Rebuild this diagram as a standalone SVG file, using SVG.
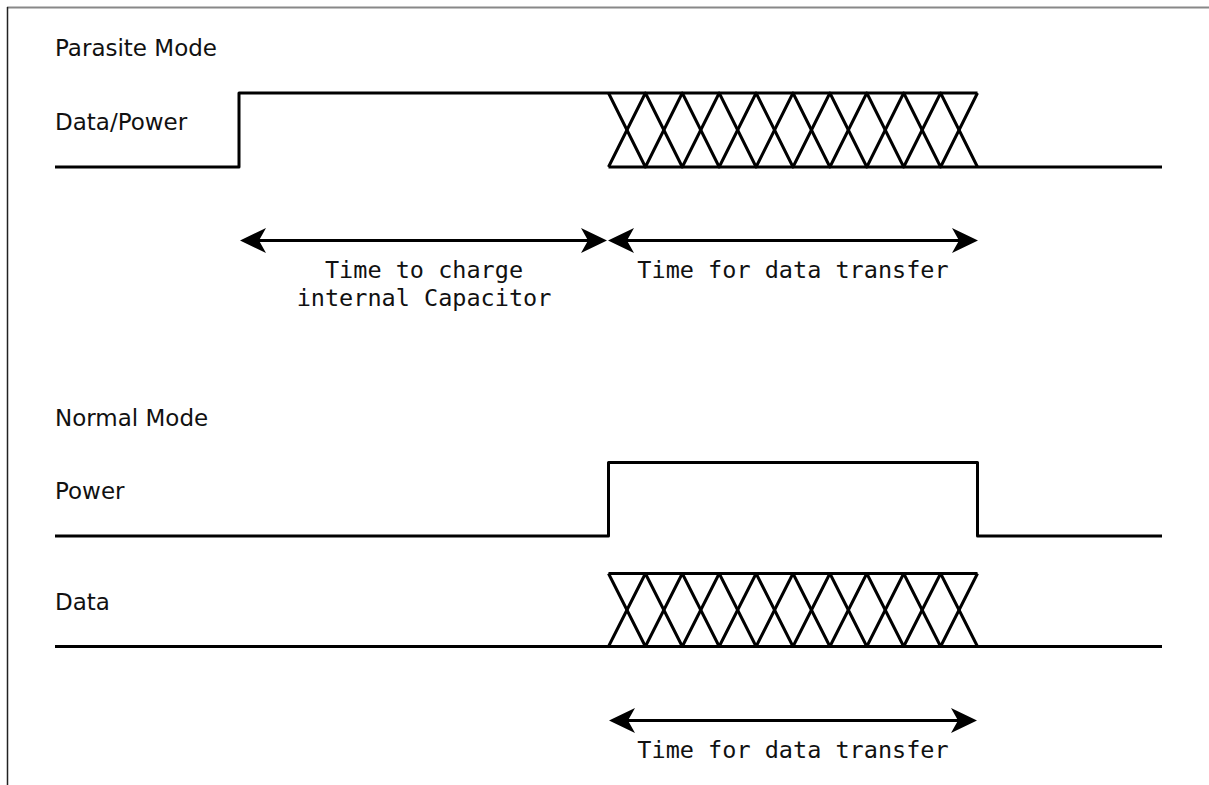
<svg xmlns="http://www.w3.org/2000/svg" width="1209" height="785" viewBox="0 0 1209 785">
  <style>
    .sig { fill: none; stroke: #000; stroke-width: 3; stroke-linejoin: round; }
    .dim { fill: none; stroke: #000; stroke-width: 3; }
    .lbl { font-family: "DejaVu Sans", "Liberation Sans", sans-serif; font-size: 23px; fill: #111; }
    .mono { font-family: "DejaVu Sans Mono", "Liberation Mono", monospace; font-size: 23.5px; fill: #111; text-anchor: middle; }
  </style>
  <defs>
    <marker id="head" markerUnits="userSpaceOnUse" viewBox="-20 -14 32 28" markerWidth="32" markerHeight="28" refX="0" refY="0" orient="auto-start-reverse">
      <path d="M10,0 L-16,-12.5 L-9,0 L-16,12.5 Z" fill="#000"/>
    </marker>
  </defs>

  <rect width="1209" height="785" fill="#fff"/>

  <!-- frame edges -->
  <g id="frame">
    <line x1="7" y1="7.5" x2="1209" y2="7.5" stroke="#888" stroke-width="2"/>
    <line x1="7.5" y1="7" x2="7.5" y2="785" stroke="#222" stroke-width="1.5"/>
  </g>

  <!-- parasite mode -->
  <g id="parasite-title"><text class="lbl" x="55" y="56">Parasite Mode</text></g>
  <g id="data-power">
    <text class="lbl" x="55" y="130">Data/Power</text>
    <path class="sig" d="M55,167 H239 V93 H977.5"/>
    <path class="sig" d="M608.5,167 H1162"/>
    <path class="sig" d="M608.5,93 L645.4,167 L682.3,93 L719.2,167 L756.1,93 L793,167 L829.9,93 L866.8,167 L903.7,93 L940.6,167 L977.5,93"/>
    <path class="sig" d="M608.5,167 L645.4,93 L682.3,167 L719.2,93 L756.1,167 L793,93 L829.9,167 L866.8,93 L903.7,167 L940.6,93 L977.5,167"/>
  </g>

  <!-- normal mode -->
  <g id="normal-title"><text class="lbl" x="55" y="426">Normal Mode</text></g>
  <g id="power">
    <text class="lbl" x="55" y="499">Power</text>
    <path class="sig" d="M55,536 H608.5 V462.5 H977.5 V536 H1162"/>
  </g>
  <g id="data">
    <text class="lbl" x="55" y="610">Data</text>
    <path class="sig" d="M608.5,573.5 H977.5"/>
    <path class="sig" d="M55,646.5 H1162"/>
    <path class="sig" d="M608.5,573.5 L645.4,646.5 L682.3,573.5 L719.2,646.5 L756.1,573.5 L793,646.5 L829.9,573.5 L866.8,646.5 L903.7,573.5 L940.6,646.5 L977.5,573.5"/>
    <path class="sig" d="M608.5,646.5 L645.4,573.5 L682.3,646.5 L719.2,573.5 L756.1,646.5 L793,573.5 L829.9,646.5 L866.8,573.5 L903.7,646.5 L940.6,573.5 L977.5,646.5"/>
  </g>

  <!-- timing spans -->
  <g id="connectors">
    <line class="dim" x1="250" y1="240.5" x2="597" y2="240.5" marker-start="url(#head)" marker-end="url(#head)"/>
    <line class="dim" x1="618" y1="240.5" x2="968" y2="240.5" marker-start="url(#head)" marker-end="url(#head)"/>
    <line class="dim" x1="619" y1="720.5" x2="967" y2="720.5" marker-start="url(#head)" marker-end="url(#head)"/>
  </g>

  <g id="span-labels">
    <text class="mono" x="424" y="278">Time to charge</text>
    <text class="mono" x="424" y="306">internal Capacitor</text>
    <text class="mono" x="793" y="278">Time for data transfer</text>
    <text class="mono" x="793" y="758">Time for data transfer</text>
  </g>
</svg>
